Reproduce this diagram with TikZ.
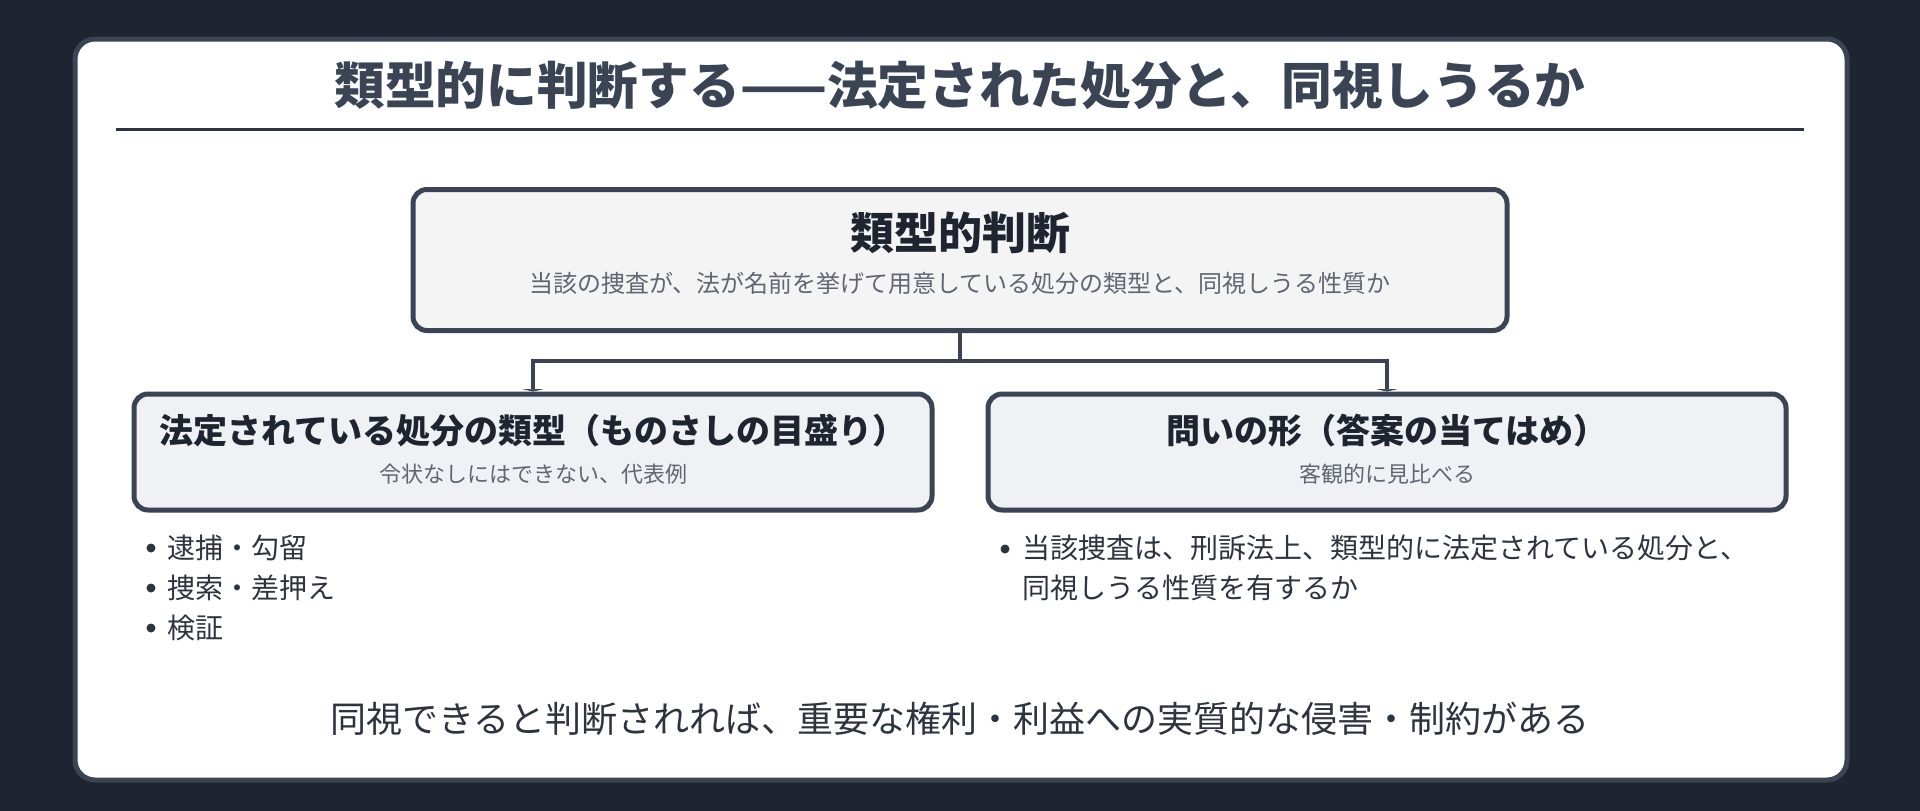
\documentclass[tikz,border=0pt]{standalone}
\usepackage{fontspec}
\setmainfont{Noto Sans CJK JP}
\usetikzlibrary{arrows.meta,positioning}

\definecolor{bgdark}{HTML}{1E2430}
\definecolor{slate}{HTML}{3A4454}
\definecolor{inkdark}{HTML}{1F2530}
\definecolor{inkbody}{HTML}{2D3440}
\definecolor{inkgrey}{HTML}{5F6773}
\definecolor{boxtop}{HTML}{F4F4F5}
\definecolor{boxside}{HTML}{EFF1F4}

\tikzset{
  card/.style={draw=slate, line width=5pt, fill=white, rounded corners=20pt},
  judgebox/.style={draw=slate, line width=5pt, fill=boxtop, rounded corners=14pt,
    minimum width=1094pt, minimum height=141pt, inner sep=0pt},
  sidebox/.style={draw=slate, line width=5pt, fill=boxside, rounded corners=14pt,
    minimum width=798pt, minimum height=116pt, inner sep=0pt},
  link/.style={draw=slate, line width=4pt, -{Triangle[length=2.5pt,width=22pt]}},
  headtxt/.style={text=inkdark, font=\bfseries\fontsize{34}{40}\selectfont, inner sep=0pt},
  subtxt/.style={text=inkgrey, font=\fontsize{22}{26}\selectfont, inner sep=0pt},
  itemtxt/.style={text=inkbody, font=\fontsize{28}{40.5}\selectfont, inner sep=0pt, anchor=west, align=left},
  dot/.style={fill=inkbody}
}

\begin{document}
\begin{tikzpicture}[x=1pt,y=-1pt]
  \fill[bgdark] (0,0) rectangle (1920,811);          % page background
  \draw[card] (75,39) rectangle (1847,780);           % white card

  % title and rule
  \node[text=slate, font=\bfseries\fontsize{50.7}{60}\selectfont, inner sep=0pt] (title) at (960,85)
    {類型的に判断する——法定された処分と、同視しうるか};
  \draw[inkbody, line width=3pt] (116,129) -- (1804,129);

  % boxes
  \node[judgebox] (judge) at (960,260) {};
  \node[headtxt, font=\bfseries\fontsize{44}{50}\selectfont] (judgehead) at (960,233) {類型的判断};
  \node[subtxt, font=\fontsize{24}{30}\selectfont] (judgesub) at (960,283)
    {当該の捜査が、法が名前を挙げて用意している処分の類型と、同視しうる性質か};

  \node[sidebox] (scale) at (533,452) {};
  \node[headtxt] (scalehead) at (533,431) {法定されている処分の類型（ものさしの目盛り）};
  \node[subtxt] (scalesub) at (533,474) {令状なしにはできない、代表例};

  \node[sidebox] (ask) at (1387,452) {};
  \node[headtxt] (askhead) at (1387,431) {問いの形（答案の当てはめ）};
  \node[subtxt] (asksub) at (1387,474) {客観的に見比べる};

  % connectors
  \coordinate (fork) at (960,361);
  \draw[link] (judge.south) -- (fork) -| (scale.north);
  \draw[link] (fork) -| (ask.north);

  % left list
  \fill[dot] (151,548) circle (4.5);
  \node[itemtxt] (item1) at (167,548) {逮捕・勾留};
  \fill[dot] (151,588) circle (4.5);
  \node[itemtxt] (item2) at (167,588) {捜索・差押え};
  \fill[dot] (151,628) circle (4.5);
  \node[itemtxt] (item3) at (167,628) {検証};

  % right list
  \fill[dot] (1005,549) circle (4.5);
  \node[itemtxt] (item4) at (1022,568)
    {当該捜査は、刑訴法上、類型的に法定されている処分と、\\同視しうる性質を有するか};

  % conclusion
  \node[text=inkbody, font=\fontsize{36}{44}\selectfont, inner sep=0pt] (result) at (960,719)
    {同視できると判断されれば、重要な権利・利益への実質的な侵害・制約がある};
\end{tikzpicture}
\end{document}
